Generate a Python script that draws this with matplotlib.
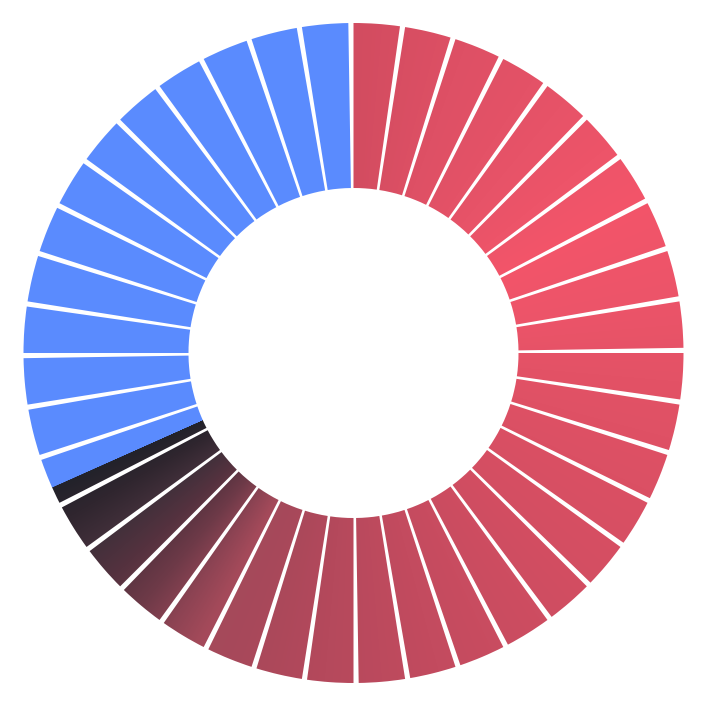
import numpy as np
import matplotlib.pyplot as plt
from matplotlib.patches import Wedge, PathPatch
from matplotlib.path import Path
from matplotlib.colors import to_rgb

# 40 equal slices, drawn clockwise from 12 o'clock
segment_values = [1] * 40

# ring colour stops (degrees clockwise from 12 o'clock)
stop_angles = [0, 20, 40, 62, 80, 95, 135, 165, 185, 200, 208, 214, 220, 227, 233, 240, 245.9, 246, 360]
stop_colors = ["#d24c60", "#de5065", "#e75368", "#f3556a", "#ec5469", "#e35266",
               "#d34e62", "#c34b5f", "#b5495c", "#a8485a", "#a44a5a", "#8c4353",
               "#6e3a48", "#55323f", "#43303b", "#30262f", "#22222a", "#5a8bfe", "#5a8bfe"]

gap_deg = 0.9
cx, cy = 353.5, 351.0
r_out, r_in = 330, 165

fig = plt.figure(figsize=(7.04, 7.04), dpi=100)
ax = fig.add_axes([0, 0, 1, 1])
ax.set_xlim(0, 704)
ax.set_ylim(0, 704)
ax.axis("off")

# conic gradient image, clipped to the slices below
yy, xx = np.mgrid[0:704, 0:704] + 0.5
ang = np.degrees(np.arctan2(xx - cx, yy - cy)) % 360
rgb_stops = np.array([to_rgb(c) for c in stop_colors])
img = np.stack([np.interp(ang, stop_angles, rgb_stops[:, k]) for k in range(3)], axis=-1)
im = ax.imshow(img, extent=(0, 704, 0, 704), origin="lower", interpolation="bilinear")

total = sum(segment_values)
start = 0.0
paths = []
for v in segment_values:
    span = 360.0 * v / total
    w = Wedge((cx, cy), r_out, 90 - (start + span - gap_deg), 90 - start, width=r_out - r_in)
    paths.append(w.get_path())
    start += span

ring = PathPatch(Path.make_compound_path(*paths), transform=ax.transData,
                 facecolor="none", edgecolor="none")
ax.add_patch(ring)
im.set_clip_path(ring)

fig.savefig("out.png", dpi=100)
